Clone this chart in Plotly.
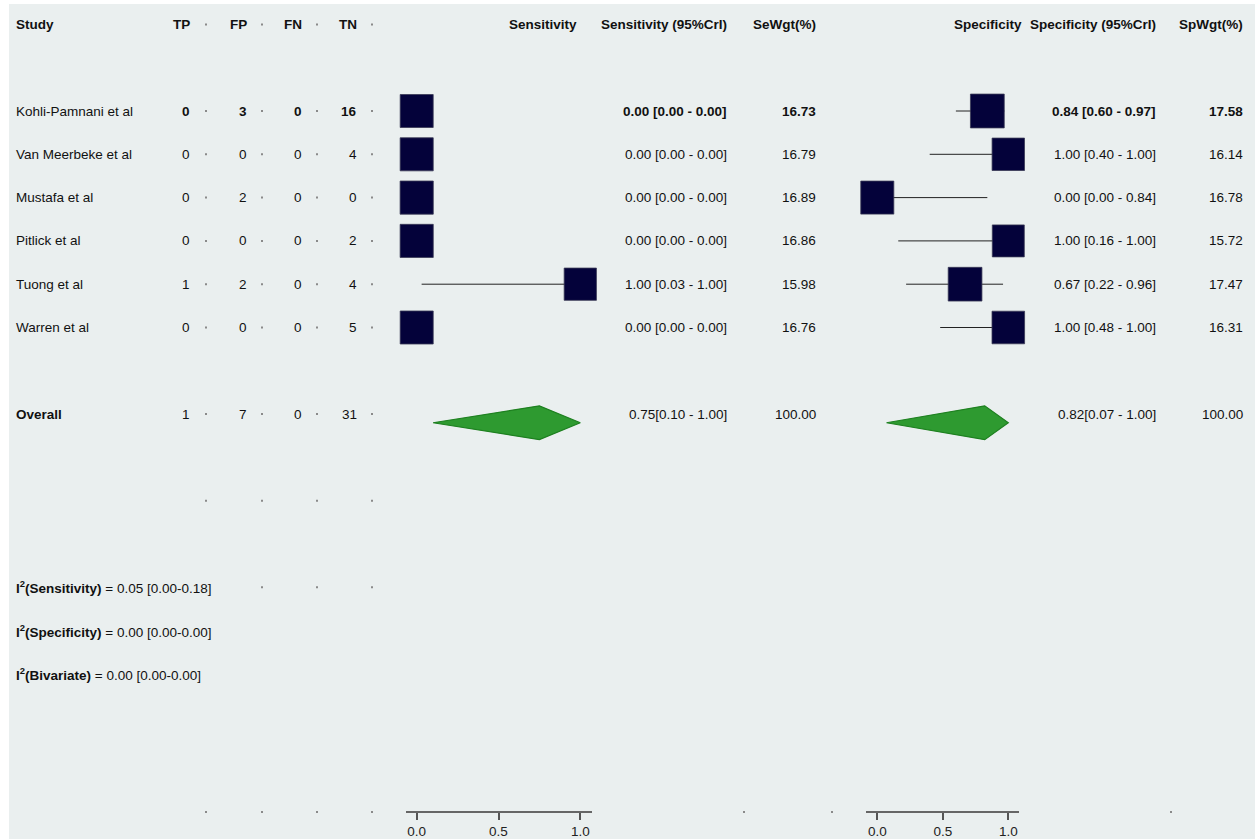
import plotly.graph_objects as go
import numpy as np

# ---------------- data ----------------
studies = ["Kohli-Pamnani et al", "Van Meerbeke et al", "Mustafa et al",
           "Pitlick et al", "Tuong et al", "Warren et al"]
tp = [0, 0, 0, 0, 1, 0]
fp = [3, 0, 2, 0, 2, 0]
fn = [0, 0, 0, 0, 0, 0]
tn = [16, 4, 0, 2, 4, 5]
sens = [0.00, 0.00, 0.00, 0.00, 1.00, 0.00]
sens_lo = [0.00, 0.00, 0.00, 0.00, 0.03, 0.00]
sens_hi = [0.00, 0.00, 0.00, 0.00, 1.00, 0.00]
se_wgt = [16.73, 16.79, 16.89, 16.86, 15.98, 16.76]
spec = [0.84, 1.00, 0.00, 1.00, 0.67, 1.00]
spec_lo = [0.60, 0.40, 0.00, 0.16, 0.22, 0.48]
spec_hi = [0.97, 1.00, 0.84, 1.00, 0.96, 1.00]
sp_wgt = [17.58, 16.14, 16.78, 15.72, 17.47, 16.31]
bold_row = [True, False, False, False, False, False]

overall_counts = [1, 7, 0, 31]
overall_sens = [0.75, 0.10, 1.00]
overall_spec = [0.82, 0.07, 1.00]
overall_wgt = [100.00, 100.00]

i2_labels = ["Sensitivity", "Specificity", "Bivariate"]
i2_vals = [[0.05, 0.00, 0.18], [0.00, 0.00, 0.00], [0.00, 0.00, 0.00]]

headers = ["Study", "TP", "FP", "FN", "TN", "Sensitivity", "Sensitivity (95%CrI)",
           "SeWgt(%)", "Specificity", "Specificity (95%CrI)", "SpWgt(%)"]
axis_ticks = [0.0, 0.5, 1.0]
axis_ticktext = ["0.0", "0.5", "1.0"]

# ---------------- layout constants ----------------
W, H = 1255, 839
ROW0_PX, ROW_PX = 111, 43.3
HEADER_ROW = -2
study_rows = list(range(len(studies)))
OVERALL_ROW = 7
BLANK_ROW = 9
I2_ROWS = [11, 12, 13]
AXIS_PX = 812
axis_row = (AXIS_PX - ROW0_PX) / ROW_PX

FONT = "Liberation Sans, Arial, sans-serif"
TXT = "#111111"
FS = 13.5
SQ_COLOR = "#04023A"
GREEN = "#2E9A30"

col_study = 14
col_counts = [191.5, 248.5, 303.5, 358.5]
col_sens_head = 579
col_sens_ci = 729
col_se_wgt = 818
col_spec_head = 1024
col_spec_ci = 1158
col_sp_wgt = 1245
dot_x = [206, 262, 317, 372]

y_top = -ROW0_PX / ROW_PX
y_bot = (H - ROW0_PX) / ROW_PX

fig = go.Figure()
annotations = []


def add_text(x, row, text, anchor="right", bold=False):
    annotations.append(dict(
        x=x, y=row, xref="x", yref="y", text=(f"<b>{text}</b>" if bold else text),
        showarrow=False, xanchor=anchor, yanchor="middle",
        font=dict(family=FONT, size=FS, color=TXT)))


# headers
head_x = [col_study] + col_counts + [col_sens_head, col_sens_ci, col_se_wgt,
                                     col_spec_head, col_spec_ci, col_sp_wgt]
for i, (h, x) in enumerate(zip(headers, head_x)):
    add_text(x, HEADER_ROW, h, anchor="left" if i == 0 else "right", bold=True)

# study rows
for i, r in enumerate(study_rows):
    b = bold_row[i]
    add_text(col_study, r, studies[i], anchor="left")
    for x, v in zip(col_counts, [tp[i], fp[i], fn[i], tn[i]]):
        add_text(x, r, str(v), bold=b)
    add_text(col_sens_ci, r, f"{sens[i]:.2f} [{sens_lo[i]:.2f} - {sens_hi[i]:.2f}]", bold=b)
    add_text(col_se_wgt, r, f"{se_wgt[i]:.2f}", bold=b)
    add_text(col_spec_ci, r, f"{spec[i]:.2f} [{spec_lo[i]:.2f} - {spec_hi[i]:.2f}]", bold=b)
    add_text(col_sp_wgt, r, f"{sp_wgt[i]:.2f}", bold=b)

# overall row
add_text(col_study, OVERALL_ROW, "Overall", anchor="left", bold=True)
for x, v in zip(col_counts, overall_counts):
    add_text(x, OVERALL_ROW, str(v))
add_text(col_sens_ci, OVERALL_ROW,
         f"{overall_sens[0]:.2f}[{overall_sens[1]:.2f} - {overall_sens[2]:.2f}]")
add_text(col_se_wgt, OVERALL_ROW, f"{overall_wgt[0]:.2f}")
add_text(col_spec_ci, OVERALL_ROW,
         f"{overall_spec[0]:.2f}[{overall_spec[1]:.2f} - {overall_spec[2]:.2f}]")
add_text(col_sp_wgt, OVERALL_ROW, f"{overall_wgt[1]:.2f}")

# I2 rows
for lab, vals, r in zip(i2_labels, i2_vals, I2_ROWS):
    txt = f"<b>I<sup>2</sup>({lab})</b> = {vals[0]:.2f} [{vals[1]:.2f}-{vals[2]:.2f}]"
    annotations.append(dict(x=col_study, y=r, xref="x", yref="y", text=txt,
                            showarrow=False, xanchor="left", yanchor="middle",
                            font=dict(family=FONT, size=FS, color=TXT)))

# separator dots
dxs, dys = [], []
for r in [HEADER_ROW] + study_rows + [OVERALL_ROW, BLANK_ROW]:
    dxs += dot_x
    dys += [r] * len(dot_x)
dxs += dot_x[1:]
dys += [I2_ROWS[0]] * 3
bottom_dots = dot_x + [744, 832, 1171]
dxs += bottom_dots
dys += [axis_row] * len(bottom_dots)
fig.add_trace(go.Scatter(x=dxs, y=dys, mode="markers", xaxis="x", yaxis="y",
                         marker=dict(size=2, color="#8a8a8a", symbol="square", opacity=1),
                         hoverinfo="skip", showlegend=False))


def forest(est, lo, hi, wgt, ov, xaxis):
    lx, ly = [], []
    for e, l, h, r in zip(est, lo, hi, study_rows):
        lx += [l, h, None]
        ly += [r, r, None]
    fig.add_trace(go.Scatter(x=lx, y=ly, mode="lines", xaxis=xaxis, yaxis="y",
                             line=dict(color="#222222", width=1),
                             hoverinfo="skip", showlegend=False, cliponaxis=False))
    sizes = [33 * np.sqrt(w / 16.73) for w in wgt]
    fig.add_trace(go.Scatter(x=est, y=study_rows, mode="markers", xaxis=xaxis, yaxis="y",
                             marker=dict(symbol="square", size=sizes, color=SQ_COLOR,
                                         opacity=1,
                                         line=dict(color="#3a3a55", width=0.8)),
                             hoverinfo="skip", showlegend=False, cliponaxis=False))
    yc = OVERALL_ROW + 0.2
    dh = 0.39
    fig.add_trace(go.Scatter(x=[ov[1], ov[0], ov[2], ov[0], ov[1]],
                             y=[yc, yc - dh, yc, yc + dh, yc],
                             mode="lines", fill="toself", fillcolor=GREEN,
                             line=dict(color="#1E8020", width=1.2),
                             xaxis=xaxis, yaxis="y", hoverinfo="skip",
                             showlegend=False, cliponaxis=False))


forest(sens, sens_lo, sens_hi, se_wgt, overall_sens, "x2")
forest(spec, spec_lo, spec_hi, sp_wgt, overall_spec, "x3")

axis_pos = (H - AXIS_PX) / H


def sub_axis(px0, px1, zero_px, one_px):
    scale = one_px - zero_px
    return dict(domain=[px0 / W, px1 / W],
                range=[(px0 - zero_px) / scale, (px1 - zero_px) / scale],
                anchor="free", position=axis_pos, showgrid=False, zeroline=False,
                showline=True, linecolor="#666666", linewidth=1.5,
                ticks="outside", ticklen=7, tickwidth=1.5, tickcolor="#555555",
                tickvals=axis_ticks, ticktext=axis_ticktext,
                tickfont=dict(family=FONT, size=FS, color="#222222"),
                fixedrange=True)


fig.update_layout(
    width=W, height=H,
    margin=dict(l=0, r=0, t=0, b=0),
    paper_bgcolor="white", plot_bgcolor="rgba(0,0,0,0)",
    xaxis=dict(domain=[0, 1], range=[0, W], visible=False, fixedrange=True),
    yaxis=dict(domain=[0, 1], range=[y_bot, y_top], visible=False, fixedrange=True),
    xaxis2=sub_axis(406, 592, 416.7, 580.3),
    xaxis3=sub_axis(866, 1019, 877.3, 1008.3),
    annotations=annotations,
    shapes=[dict(type="rect", xref="paper", yref="paper", x0=9 / W, x1=1, y0=0,
                 y1=1 - 4 / H, fillcolor="#EAEFEF", line=dict(width=0), layer="below")],
    showlegend=False,
)

fig.write_html("out.html", config={"displayModeBar": False},
               post_script="document.body.style.margin='0';document.body.style.overflow='hidden';")
